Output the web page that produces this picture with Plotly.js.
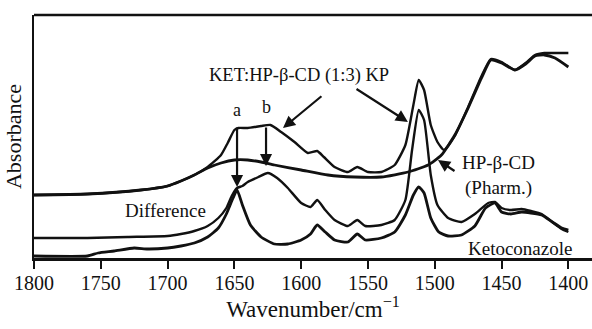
<!DOCTYPE html>
<html>
<head>
<meta charset="utf-8">
<script src="https://cdn.plot.ly/plotly-3.0.1.min.js"></script>
<style>html,body{margin:0;padding:0;background:#fff;}#chart{width:592px;height:329px;}</style>
</head>
<body>
<div id="chart"></div>
<script>
// Wavenumbers (cm^-1) and absorbance (arbitrary, offset)
const hpWave = [1800,1760,1720,1700,1690,1680,1670,1660,1650,1640,1630,1620,1600,1580,1560,1540,1520,1505,1495,1485,1475,1465,1458,1450,1440,1432,1425,1418,1410,1400];
const hpAbs  = [0.63,0.64,0.68,0.72,0.77,0.83,0.90,0.95,0.98,0.98,0.96,0.93,0.88,0.83,0.81,0.81,0.86,0.93,1.03,1.23,1.50,1.80,1.98,1.95,1.88,1.94,2.02,2.03,2.00,1.91];

const kpWave = [1800,1760,1720,1700,1690,1680,1670,1660,1655,1650,1647,1640,1630,1623,1615,1605,1595,1588,1583,1575,1565,1558,1550,1540,1530,1522,1516,1512,1508,1503,1498,1493,1485,1475,1465,1458,1450,1440,1432,1425,1418,1410,1400];
const kpAbs  = [0.63,0.64,0.68,0.72,0.77,0.83,0.91,1.03,1.15,1.28,1.30,1.30,1.32,1.33,1.26,1.16,1.05,1.07,1.01,0.91,0.86,0.91,0.86,0.86,0.93,1.13,1.53,1.78,1.68,1.33,1.16,1.08,1.22,1.51,1.82,1.99,1.96,1.88,1.95,2.03,2.05,2.05,2.05];

const diffWave = [1800,1760,1730,1700,1690,1680,1670,1662,1656,1652,1648,1644,1640,1632,1625,1618,1610,1600,1593,1588,1582,1575,1565,1558,1552,1540,1530,1522,1517,1512,1508,1503,1498,1490,1480,1470,1460,1455,1450,1443,1435,1428,1420,1412,1405,1400];
const diffAbs  = [0.20,0.20,0.21,0.22,0.24,0.27,0.32,0.40,0.50,0.62,0.70,0.72,0.76,0.81,0.85,0.80,0.70,0.55,0.51,0.58,0.48,0.38,0.32,0.38,0.32,0.33,0.38,0.58,1.08,1.48,1.38,0.83,0.53,0.40,0.36,0.44,0.55,0.56,0.50,0.48,0.49,0.47,0.44,0.36,0.29,0.26];

const ketoWave = [1800,1760,1752,1740,1725,1715,1700,1690,1680,1670,1662,1656,1651,1648,1644,1638,1630,1620,1610,1600,1593,1588,1582,1575,1565,1558,1552,1540,1530,1522,1516,1512,1508,1503,1497,1490,1480,1470,1462,1455,1450,1443,1435,1428,1420,1412,1405,1400];
const ketoAbs  = [0.02,0.02,0.05,0.07,0.10,0.09,0.10,0.12,0.15,0.21,0.30,0.44,0.60,0.68,0.53,0.33,0.21,0.14,0.14,0.18,0.24,0.33,0.26,0.18,0.16,0.24,0.18,0.20,0.26,0.43,0.63,0.71,0.65,0.40,0.26,0.22,0.23,0.32,0.50,0.55,0.46,0.44,0.46,0.45,0.43,0.36,0.30,0.28];

const tickVals = [1800,1750,1700,1650,1600,1550,1500,1450,1400];

const serif = "'Liberation Serif', 'Times New Roman', Times, serif";
const ink = "#111";

function line(x, y, w) {
  return {x: x, y: y, type: "scatter", mode: "lines", line: {color: ink, width: w, shape: "spline", smoothing: 0.5}, hoverinfo: "skip", showlegend: false};
}

const traces = [
  line(hpWave, hpAbs, 2.8),
  line(kpWave, kpAbs, 2.4),
  line(diffWave, diffAbs, 2.4),
  line(ketoWave, ketoAbs, 2.8)
];

function arrow(hx, hy, tx, ty, size) {
  return {x: hx, y: hy, ax: tx, ay: ty, xref: "x", yref: "y", axref: "x", ayref: "y",
    text: "", showarrow: true, arrowhead: 2, arrowsize: size || 1.1, arrowwidth: 2.2, arrowcolor: ink};
}
function label(x, y, text, size) {
  return {x: x, y: y, xref: "x", yref: "y", text: text, showarrow: false,
    font: {family: serif, size: size || 19, color: ink}, align: "center"};
}

const annotations = [
  label(1602, 1.83, "KET:HP-β-CD (1:3) KP", 18.5),
  arrow(1613.6, 1.30, 1583.7, 1.63),
  arrow(1520.1, 1.36, 1559.7, 1.70),
  label(1648, 1.48, "a", 18),
  label(1626.3, 1.51, "b", 18),
  arrow(1648, 0.71, 1648, 1.32),
  arrow(1626.3, 0.92, 1626.3, 1.32),
  label(1452, 0.83, "HP-β-CD<br>(Pharm.)", 19),
  arrow(1497.6, 0.98, 1484.1, 0.86),
  label(1701.2, 0.48, "Difference", 19),
  label(1436.2, 0.10, "Ketoconazole", 19)
];

const layout = {
  width: 592, height: 329,
  margin: {l: 34, r: 0, t: 15, b: 71},
  paper_bgcolor: "#fff", plot_bgcolor: "#fff",
  font: {family: serif, color: ink},
  showlegend: false,
  xaxis: {
    range: [1800, 1382.3], autorange: false,
    tickvals: tickVals, ticktext: tickVals.map(String),
    ticks: "outside", ticklen: 8, tickwidth: 2, tickcolor: ink,
    ticklabelstandoff: -3,
    showline: true, linecolor: ink, linewidth: 2.5,
    showgrid: false, zeroline: false,
    tickfont: {family: serif, size: 20, color: ink},
    title: {text: "Wavenumber/cm<sup>−1</sup>", font: {family: serif, size: 23, color: ink}, standoff: 4}
  },
  yaxis: {
    range: [0, 2.43], autorange: false,
    showticklabels: false, ticks: "",
    showline: true, linecolor: ink, linewidth: 2.5,
    showgrid: false, zeroline: false,
    title: {text: "Absorbance", font: {family: serif, size: 22, color: ink}, standoff: 4}
  },
  shapes: [
    {type: "line", xref: "paper", yref: "paper", x0: 0, x1: 1, y0: 1, y1: 1, line: {color: ink, width: 2.5}}
  ],
  annotations: annotations
};

Plotly.newPlot("chart", traces, layout, {displayModeBar: false, staticPlot: true});
</script>
</body>
</html>
